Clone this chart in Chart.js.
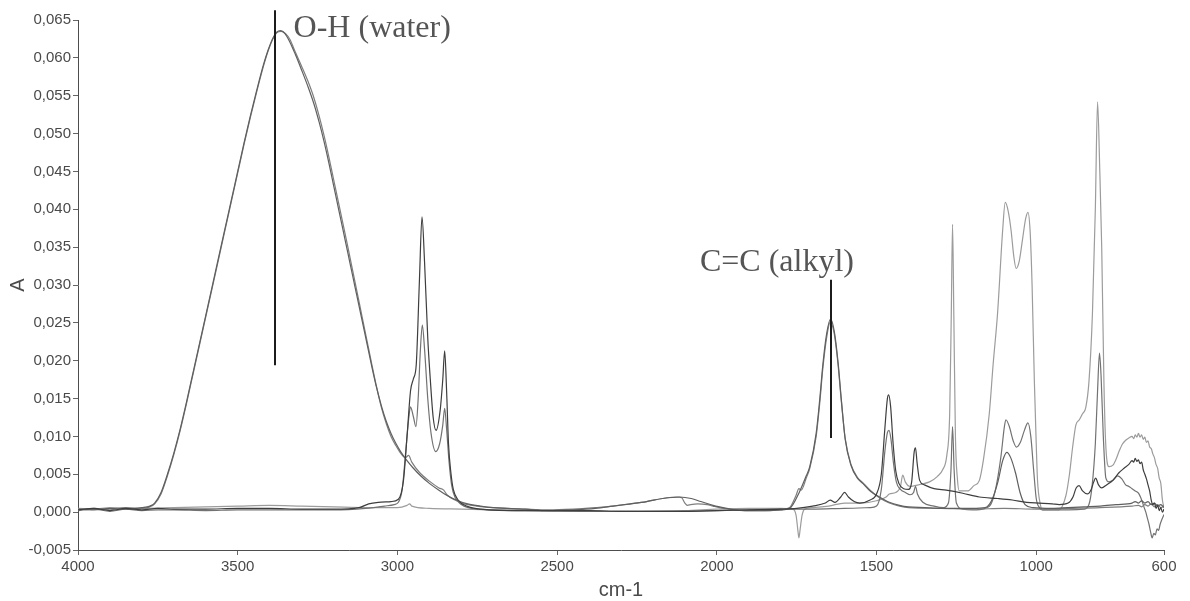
<!DOCTYPE html>
<html><head><meta charset="utf-8">
<script src="https://cdn.jsdelivr.net/npm/chart.js@4.4.1/dist/chart.umd.min.js"></script>
<style>html,body{margin:0;padding:0;background:#fff;}#wrap{width:1190px;height:601px;}</style>
</head><body><div id="wrap"><canvas id="c" width="1190" height="601"></canvas></div>
<script>
// ---- tick labels ----
const xTicks = [4000, 3500, 3000, 2500, 2000, 1500, 1000, 600];
const yTicks = [-0.005, 0, 0.005, 0.010, 0.015, 0.020, 0.025, 0.030, 0.035, 0.040, 0.045, 0.050, 0.055, 0.060, 0.065];

// ---- series: [wavenumber cm-1, absorbance] ----
const waterA = [[4000,0.0004],[3950,0.0003],[3900,0.0005],[3850,0.0004],[3800,0.0006],[3775,0.0008],[3760,0.0012],[3740,0.0026],[3720,0.0050],[3700,0.0078],[3680,0.0110],[3660,0.0146],[3640,0.0184],[3620,0.0222],[3600,0.0260],[3580,0.0298],[3560,0.0336],[3540,0.0374],[3520,0.0412],[3500,0.0450],[3480,0.0488],[3460,0.0524],[3440,0.0558],[3420,0.0590],[3405,0.0610],[3390,0.0626],[3378,0.0634],[3366,0.0636],[3352,0.0632],[3338,0.0622],[3320,0.0605],[3300,0.0584],[3280,0.0562],[3262,0.0540],[3245,0.0515],[3230,0.0490],[3215,0.0462],[3200,0.0432],[3185,0.0402],[3170,0.0372],[3155,0.0342],[3140,0.0312],[3125,0.0282],[3110,0.0252],[3095,0.0222],[3080,0.0192],[3065,0.0164],[3050,0.0140],[3035,0.0120],[3020,0.0104],[3005,0.0091],[2990,0.0080],[2970,0.0068],[2950,0.0058],[2925,0.0047],[2900,0.0038],[2870,0.0029],[2840,0.0021],[2810,0.0015],[2780,0.0011],[2740,0.0008],[2700,0.0006],[2600,0.0004],[2530,0.0002],[2450,0.0003],[2380,0.0005],[2325,0.0008],[2270,0.0011],[2220,0.0014],[2170,0.0018],[2116,0.0020],[2080,0.0018],[2050,0.0014],[2012,0.0009],[1980,0.0006],[1959,0.0004],[1907,0.0002],[1850,0.0002],[1800,0.0003],[1772,0.0005],[1741,0.0027],[1720,0.0048],[1709,0.0060],[1689,0.0104],[1678,0.0148],[1668,0.0195],[1656,0.0236],[1644,0.0255],[1632,0.0238],[1620,0.0196],[1610,0.0148],[1598,0.0096],[1580,0.0062],[1560,0.0045],[1543,0.0038],[1520,0.0028],[1491,0.0020],[1460,0.0013],[1428,0.0009],[1400,0.0007],[1350,0.0006],[1300,0.0005],[1250,0.0005],[1200,0.0005],[1160,0.0006],[1140,0.0015],[1120,0.0040],[1105,0.0068],[1092,0.0079],[1080,0.0072],[1065,0.0052],[1050,0.0025],[1035,0.0010],[1010,0.0006],[950,0.0005],[900,0.0006],[850,0.0007],[800,0.0008],[750,0.0010],[700,0.0012],[690,0.0014],[680,0.0012],[670,0.0015],[660,0.0012],[650,0.0014],[640,0.0010],[630,0.0012],[620,0.0008],[610,0.0010],[600,0.0006]];

const waterB = [[4000,0.0003],[3950,0.0005],[3900,0.0003],[3850,0.0006],[3800,0.0005],[3775,0.0007],[3760,0.0011],[3740,0.0024],[3720,0.0048],[3700,0.0076],[3680,0.0108],[3660,0.0144],[3640,0.0182],[3620,0.0220],[3600,0.0258],[3580,0.0296],[3560,0.0334],[3540,0.0372],[3520,0.0410],[3500,0.0448],[3480,0.0486],[3460,0.0522],[3440,0.0556],[3420,0.0588],[3405,0.0609],[3390,0.0625],[3378,0.0633],[3364,0.0635],[3350,0.0632],[3336,0.0624],[3320,0.0608],[3300,0.0589],[3280,0.0569],[3262,0.0548],[3245,0.0523],[3230,0.0498],[3215,0.0470],[3200,0.0440],[3185,0.0410],[3170,0.0380],[3155,0.0350],[3140,0.0319],[3125,0.0288],[3110,0.0257],[3095,0.0226],[3080,0.0195],[3065,0.0165],[3050,0.0138],[3035,0.0117],[3020,0.0100],[3005,0.0088],[2990,0.0078],[2975,0.0072],[2965,0.0075],[2955,0.0066],[2930,0.0052],[2900,0.0041],[2870,0.0032],[2855,0.0029],[2845,0.0023],[2820,0.0016],[2790,0.0011],[2750,0.0008],[2700,0.0006],[2600,0.0004],[2530,0.0003],[2450,0.0004],[2380,0.0006],[2325,0.0008],[2270,0.0011],[2220,0.0014],[2170,0.0018],[2125,0.0020],[2110,0.0019],[2100,0.0012],[2092,0.0009],[2082,0.0010],[2060,0.0011],[2030,0.0010],[2012,0.0008],[1980,0.0005],[1959,0.0004],[1907,0.0002],[1850,0.0002],[1800,0.0003],[1772,0.0006],[1752,0.0022],[1743,0.0031],[1736,0.0029],[1720,0.0045],[1709,0.0058],[1689,0.0100],[1678,0.0143],[1668,0.0190],[1656,0.0231],[1645,0.0251],[1633,0.0237],[1621,0.0197],[1611,0.0150],[1598,0.0097],[1580,0.0063],[1560,0.0046],[1543,0.0039],[1520,0.0029],[1491,0.0019],[1460,0.0012],[1428,0.0008],[1400,0.0006],[1300,0.0005],[1200,0.0004],[1100,0.0005],[1000,0.0004],[900,0.0005],[800,0.0006],[700,0.0008],[680,0.0009],[670,0.0007],[660,0.0010],[650,0.0008],[640,0.0011],[630,0.0007],[620,0.0010],[610,0.0006],[600,0.0008]];

const alkylA = [[4000,0.0003],[3950,0.0005],[3900,0.0002],[3850,0.0005],[3800,0.0003],[3750,0.0005],[3700,0.0004],[3600,0.0004],[3500,0.0005],[3400,0.0005],[3300,0.0004],[3200,0.0004],[3120,0.0006],[3090,0.0011],[3060,0.0013],[3020,0.0014],[2997,0.0017],[2981,0.0042],[2969,0.0105],[2959,0.0160],[2950,0.0176],[2941,0.0195],[2931,0.0307],[2923,0.0390],[2915,0.0330],[2905,0.0230],[2897,0.0175],[2888,0.0125],[2879,0.0108],[2866,0.0135],[2858,0.0175],[2852,0.0213],[2846,0.0160],[2840,0.0090],[2832,0.0050],[2825,0.0030],[2810,0.0016],[2794,0.0010],[2741,0.0004],[2600,0.0002],[2500,0.0002],[2400,0.0002],[2300,0.0001],[2200,0.0001],[2100,0.0001],[2000,0.0002],[1900,0.0003],[1800,0.0004],[1750,0.0005],[1700,0.0008],[1660,0.0012],[1645,0.0016],[1630,0.0013],[1612,0.0020],[1600,0.0026],[1588,0.0020],[1570,0.0014],[1553,0.0012],[1520,0.0016],[1500,0.0024],[1485,0.0050],[1474,0.0110],[1466,0.0150],[1462,0.0155],[1456,0.0140],[1448,0.0090],[1440,0.0055],[1430,0.0038],[1415,0.0031],[1400,0.0030],[1390,0.0040],[1382,0.0080],[1378,0.0085],[1373,0.0065],[1365,0.0042],[1350,0.0036],[1320,0.0031],[1282,0.0029],[1230,0.0025],[1178,0.0020],[1120,0.0018],[1075,0.0016],[1030,0.0013],[991,0.0012],[950,0.0011],[928,0.0010],[900,0.0012],[885,0.0020],[875,0.0032],[866,0.0035],[855,0.0028],[840,0.0024],[828,0.0030],[820,0.0040],[814,0.0045],[805,0.0036],[795,0.0032],[780,0.0036],[760,0.0042],[741,0.0052],[725,0.0058],[710,0.0063],[700,0.0068],[695,0.0066],[690,0.0071],[685,0.0067],[680,0.0069],[675,0.0064],[670,0.0066],[665,0.0056],[660,0.0050],[655,0.0044],[650,0.0036],[645,0.0028],[640,0.0016],[635,0.0010],[630,0.0012],[625,0.0005],[620,0.0009],[615,0.0002],[610,0.0006],[605,0.0000],[600,0.0004]];

const alkylB = [[4000,0.0002],[3950,0.0004],[3900,0.0001],[3850,0.0004],[3800,0.0002],[3750,0.0003],[3700,0.0003],[3600,0.0002],[3500,0.0003],[3400,0.0003],[3300,0.0003],[3200,0.0003],[3100,0.0005],[3040,0.0008],[3010,0.0010],[2997,0.0013],[2985,0.0030],[2975,0.0075],[2965,0.0122],[2959,0.0139],[2950,0.0126],[2942,0.0113],[2935,0.0150],[2928,0.0215],[2922,0.0247],[2915,0.0215],[2905,0.0150],[2895,0.0105],[2880,0.0080],[2868,0.0090],[2858,0.0115],[2852,0.0137],[2846,0.0110],[2838,0.0065],[2830,0.0035],[2820,0.0020],[2800,0.0010],[2750,0.0004],[2600,0.0002],[2400,0.0001],[2200,0.0001],[2000,0.0002],[1900,0.0003],[1800,0.0004],[1700,0.0004],[1600,0.0005],[1520,0.0006],[1500,0.0008],[1485,0.0030],[1474,0.0080],[1466,0.0105],[1461,0.0108],[1455,0.0097],[1447,0.0065],[1438,0.0040],[1425,0.0030],[1410,0.0026],[1395,0.0023],[1384,0.0026],[1378,0.0034],[1372,0.0024],[1355,0.0013],[1320,0.0008],[1290,0.0006],[1275,0.0012],[1267,0.0055],[1262,0.0113],[1257,0.0055],[1250,0.0012],[1230,0.0004],[1200,0.0003],[1160,0.0005],[1140,0.0012],[1125,0.0035],[1110,0.0075],[1100,0.0112],[1095,0.0122],[1085,0.0114],[1072,0.0094],[1062,0.0086],[1050,0.0092],[1037,0.0108],[1026,0.0118],[1017,0.0100],[1008,0.0055],[1000,0.0018],[990,0.0006],[980,0.0003],[900,0.0003],[850,0.0004],[835,0.0010],[825,0.0035],[815,0.0090],[808,0.0160],[802,0.0210],[797,0.0180],[790,0.0100],[782,0.0045],[772,0.0040],[760,0.0042],[745,0.0048],[732,0.0044],[720,0.0036],[710,0.0034],[700,0.0031],[690,0.0028],[680,0.0025],[670,0.0016],[662,0.0006],[657,0.0000],[652,-0.0008],[647,-0.0016],[642,-0.0026],[637,-0.0034],[632,-0.0028],[627,-0.0030],[622,-0.0022],[617,-0.0024],[612,-0.0016],[607,-0.0010],[600,-0.0003]];

const silicone = [[4000,0.0005],[3950,0.0004],[3900,0.0006],[3800,0.0005],[3700,0.0006],[3600,0.0007],[3500,0.0008],[3400,0.0009],[3300,0.0008],[3200,0.0007],[3100,0.0006],[3000,0.0006],[2970,0.0009],[2962,0.0011],[2955,0.0008],[2900,0.0005],[2800,0.0004],[2700,0.0003],[2500,0.0002],[2300,0.0001],[2100,0.0002],[2000,0.0004],[1900,0.0005],[1800,0.0005],[1762,0.0004],[1752,-0.0004],[1746,-0.0025],[1743,-0.0034],[1739,-0.0022],[1733,-0.0004],[1725,0.0004],[1700,0.0006],[1650,0.0008],[1600,0.0012],[1550,0.0012],[1500,0.0015],[1470,0.0020],[1460,0.0024],[1440,0.0026],[1425,0.0034],[1418,0.0049],[1410,0.0040],[1395,0.0034],[1380,0.0035],[1360,0.0037],[1334,0.0040],[1310,0.0047],[1293,0.0056],[1280,0.0075],[1271,0.0130],[1266,0.0260],[1262,0.0380],[1258,0.0260],[1253,0.0100],[1247,0.0045],[1241,0.0028],[1215,0.0028],[1195,0.0035],[1178,0.0042],[1165,0.0070],[1147,0.0130],[1135,0.0195],[1121,0.0263],[1105,0.0373],[1097,0.0409],[1088,0.0398],[1079,0.0373],[1070,0.0337],[1063,0.0322],[1053,0.0332],[1043,0.0360],[1033,0.0388],[1026,0.0396],[1019,0.0370],[1013,0.0300],[1006,0.0175],[1000,0.0090],[996,0.0042],[988,0.0012],[980,0.0003],[930,0.0003],[907,0.0022],[896,0.0050],[886,0.0086],[876,0.0115],[865,0.0122],[855,0.0130],[845,0.0138],[835,0.0172],[824,0.0263],[815,0.0400],[808,0.0542],[801,0.0450],[795,0.0350],[788,0.0170],[782,0.0086],[772,0.0060],[760,0.0062],[750,0.0070],[740,0.0081],[730,0.0090],[720,0.0095],[710,0.0098],[700,0.0100],[695,0.0097],[690,0.0102],[685,0.0099],[680,0.0104],[675,0.0099],[670,0.0102],[665,0.0096],[660,0.0099],[655,0.0092],[650,0.0094],[645,0.0086],[640,0.0084],[635,0.0077],[630,0.0072],[625,0.0063],[620,0.0058],[615,0.0045],[610,0.0038],[605,0.0016],[600,0.0006]];

// ---- peak annotations (data coordinates) ----
const annotations = [
  {text: 'O-H (water)', lineX: 3384, lineTop: 0.0663, lineBottom: 0.0194, textX: 3325, textY: 0.0627},
  {text: 'C=C (alkyl)', lineX: 1644, lineTop: 0.0307, lineBottom: 0.0098, textX: 2053, textY: 0.0319}
];

const SANS = '"Liberation Sans", Arial, Helvetica, sans-serif';
const toPts = arr => arr.map(p => ({x: p[0], y: p[1]}));
const seriesDefs = [
  {label: 'alkyl A', pts: alkylA, color: '#3e3e3e'},
  {label: 'water A', pts: waterA, color: '#5f5f5f'},
  {label: 'water B', pts: waterB, color: '#7e7e7e'},
  {label: 'alkyl B', pts: alkylB, color: '#727272'},
  {label: 'silicone', pts: silicone, color: '#9c9c9c'}
];

const annotationPlugin = {
  id: 'peakLabels',
  afterDatasetsDraw(chart) {
    const {ctx, scales: {x, y}} = chart;
    ctx.save();
    annotations.forEach(a => {
      const px = Math.round(x.getPixelForValue(a.lineX));
      ctx.strokeStyle = '#1c1c1c';
      ctx.lineWidth = 2;
      ctx.beginPath();
      ctx.moveTo(px, y.getPixelForValue(a.lineTop));
      ctx.lineTo(px, y.getPixelForValue(a.lineBottom));
      ctx.stroke();
      ctx.font = '32px "Liberation Serif", "Times New Roman", serif';
      ctx.fillStyle = '#555555';
      ctx.textAlign = 'left';
      ctx.textBaseline = 'alphabetic';
      ctx.fillText(a.text, x.getPixelForValue(a.textX), y.getPixelForValue(a.textY));
    });
    ctx.restore();
  }
};

new Chart(document.getElementById('c'), {
  type: 'line',
  data: {
    datasets: seriesDefs.map(s => ({
      label: s.label,
      data: toPts(s.pts),
      borderColor: s.color,
      borderWidth: 1.2,
      pointRadius: 0,
      fill: false,
      cubicInterpolationMode: 'monotone'
    }))
  },
  options: {
    responsive: false,
    animation: false,
    layout: {padding: {left: 0, right: 26, top: 20, bottom: 0}},
    plugins: {legend: {display: false}, tooltip: {enabled: false}},
    scales: {
      x: {
        type: 'linear', reverse: true, min: 600, max: 4000,
        afterBuildTicks: s => { s.ticks = xTicks.map(v => ({value: v})); },
        afterFit: s => { s.height = 51; },
        ticks: {autoSkip: false, maxRotation: 0, padding: 3, color: '#4a4a4a',
                font: {family: SANS, size: 15}, callback: v => String(v)},
        grid: {drawOnChartArea: false, drawTicks: true, tickLength: 5, color: '#666666'},
        border: {display: true, color: '#4d4d4d', width: 1},
        title: {display: true, text: 'cm-1', color: '#4a4a4a',
                font: {family: SANS, size: 20, lineHeight: 1}, padding: {top: 0, bottom: 1}}
      },
      y: {
        type: 'linear', min: -0.005, max: 0.065,
        afterBuildTicks: s => { s.ticks = yTicks.map(v => ({value: v})); },
        afterFit: s => { s.width = 78; },
        ticks: {autoSkip: false, padding: 2, color: '#4a4a4a',
                font: {family: SANS, size: 15},
                callback: v => Number(v).toFixed(3).replace('.', ',')},
        grid: {drawOnChartArea: false, drawTicks: true, tickLength: 5, color: '#666666'},
        border: {display: true, color: '#4d4d4d', width: 1},
        title: {display: true, text: 'A', color: '#4a4a4a',
                font: {family: SANS, size: 20, lineHeight: 1}, padding: {top: 8, bottom: 0}}
      }
    }
  },
  plugins: [annotationPlugin]
});
</script>
</body></html>
